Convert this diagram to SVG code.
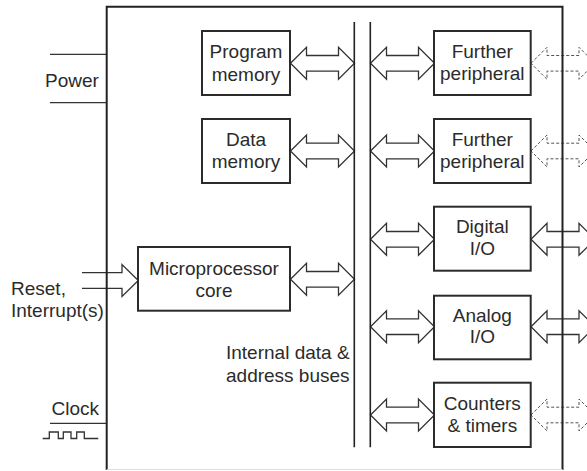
<svg xmlns="http://www.w3.org/2000/svg" xmlns:xlink="http://www.w3.org/1999/xlink" width="587" height="471" viewBox="0 0 587 471">
<style>
.box{fill:#fff;stroke:#2b2b2b;stroke-width:2}
.t{font-family:"Liberation Sans",Arial,sans-serif;font-size:19px;fill:#2b2b2b}
.m{text-anchor:middle}
.arr{fill:#fff;stroke:#333;stroke-width:1.3;stroke-linejoin:miter}
.darr{fill:#fff;stroke:#555;stroke-width:1;stroke-dasharray:3 2}
.ln{fill:none;stroke:#333;stroke-width:1.3}
.frame{fill:none;stroke:#222;stroke-width:2}
.bus{fill:none;stroke:#222;stroke-width:1.6}
</style>
<defs>
<path id="dbl" d="M0,0 L16,-16 L16,-7.8 L48,-7.8 L48,-16 L64,0 L48,16 L48,7.8 L16,7.8 L16,16 Z"/>
</defs>
<g id="connectors">
<use xlink:href="#dbl" href="#dbl" class="arr" transform="translate(290.5,63.3)"/>
<use xlink:href="#dbl" href="#dbl" class="arr" transform="translate(290.5,151)"/>
<use xlink:href="#dbl" href="#dbl" class="arr" transform="translate(290.5,279.3)"/>
<use xlink:href="#dbl" href="#dbl" class="arr" transform="translate(370.5,63.3)"/>
<use xlink:href="#dbl" href="#dbl" class="arr" transform="translate(370.5,151)"/>
<use xlink:href="#dbl" href="#dbl" class="arr" transform="translate(370.5,239.3)"/>
<use xlink:href="#dbl" href="#dbl" class="arr" transform="translate(370.5,326.7)"/>
<use xlink:href="#dbl" href="#dbl" class="arr" transform="translate(370.5,415)"/>
<use xlink:href="#dbl" href="#dbl" class="darr" transform="translate(531,63.3)"/>
<use xlink:href="#dbl" href="#dbl" class="darr" transform="translate(531,151)"/>
<use xlink:href="#dbl" href="#dbl" class="arr" transform="translate(531,239.3)"/>
<use xlink:href="#dbl" href="#dbl" class="arr" transform="translate(531,326.7)"/>
<use xlink:href="#dbl" href="#dbl" class="darr" transform="translate(531,415)"/>
<path class="arr" d="M82,272.7 L122,272.7 L122,264.5 L138.3,280.5 L122,296.5 L122,288.3 L82,288.3"/>
<path class="ln" d="M50,54.3 H106.7 M50,102.7 H106.7 M50,423.3 H106.7"/>
<path class="ln" d="M42.7,438.5 H49.3 V432 H58.3 V438.5 H63.3 V432 H71 V438.5 H76.7 V432 H84.3 V438.5 H98.3"/>
</g>
<g id="frame">
<path class="frame" d="M106.7,470 V6.7 H562.5 V470"/>
<path d="M106.7,469.5 H562.5" fill="none" stroke="#ddd" stroke-width="1"/>
</g>
<g id="bus">
<path class="bus" d="M354.3,22 V447.3 M370.3,22 V447.3"/>
</g>
<g id="program-memory">
<rect class="box" x="202" y="31" width="88" height="64"/>
<text class="t m" x="246" y="58.3">Program</text>
<text class="t m" x="246" y="80.5">memory</text>
</g>
<g id="data-memory">
<rect class="box" x="202" y="119" width="88" height="64"/>
<text class="t m" x="246" y="145.8">Data</text>
<text class="t m" x="246" y="168.3">memory</text>
</g>
<g id="microprocessor-core">
<rect class="box" x="138" y="247" width="152" height="63.7"/>
<text class="t m" x="214" y="275">Microprocessor</text>
<text class="t m" x="214" y="296.7">core</text>
</g>
<g id="further-peripheral-1">
<rect class="box" x="434" y="31" width="96.7" height="64"/>
<text class="t m" x="482.3" y="58.3">Further</text>
<text class="t m" x="482.3" y="80">peripheral</text>
</g>
<g id="further-peripheral-2">
<rect class="box" x="434" y="119" width="96.7" height="64"/>
<text class="t m" x="482.3" y="145.8">Further</text>
<text class="t m" x="482.3" y="167.5">peripheral</text>
</g>
<g id="digital-io">
<rect class="box" x="434" y="206.7" width="96.7" height="64"/>
<text class="t m" x="482.3" y="233.3">Digital</text>
<text class="t m" x="482.3" y="255">I/O</text>
</g>
<g id="analog-io">
<rect class="box" x="434" y="295.7" width="96.7" height="63.6"/>
<text class="t m" x="482.3" y="321.7">Analog</text>
<text class="t m" x="482.3" y="343.3">I/O</text>
</g>
<g id="counters-timers">
<rect class="box" x="434" y="382.7" width="96.7" height="64.3"/>
<text class="t m" x="482.3" y="410">Counters</text>
<text class="t m" x="482.3" y="431.7">&amp; timers</text>
</g>
<g id="labels">
<text class="t m" x="72" y="87">Power</text>
<text class="t" x="11" y="295">Reset,</text>
<text class="t" x="11" y="316.7">Interrupt(s)</text>
<text class="t" x="226" y="359">Internal data &amp;</text>
<text class="t" x="226" y="381.7">address buses</text>
<text class="t" x="99" y="415" text-anchor="end">Clock</text>
</g>
</svg>
